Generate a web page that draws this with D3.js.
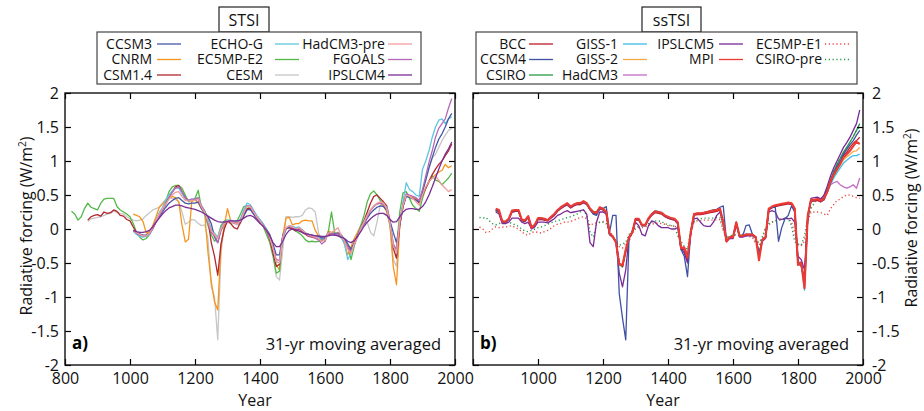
<!DOCTYPE html>
<html>
<head>
<meta charset="utf-8">
<script src="https://cdn.jsdelivr.net/npm/d3@7"></script>
<style>
  body { margin: 0; background: #fff; }
  svg { display: block; font-family: "Open Sans", sans-serif; }
</style>
</head>
<body>
<svg id="chart" width="924" height="411"></svg>
<script>
// ---------------- data ----------------
// Values are 31-yr moving averaged radiative forcing (W/m2), sampled every 10 years
// starting at each series' first year.
const step = 10;
const yTicks = [-2, -1.5, -1, -0.5, 0, 0.5, 1, 1.5, 2];
const xTicks = [800, 1000, 1200, 1400, 1600, 1800, 2000];

// ---- STSI (panel a) ----
const ccsm3 = [
  -0.02, -0.05, -0.07, -0.09, -0.09, -0.06, 0.01, 0.10, 0.18,
  0.25, 0.32, 0.38, 0.42, 0.45, 0.46, 0.42, 0.38, 0.37, 0.38,
  0.38, 0.40, 0.30, 0.24, 0.18, 0.08, -0.12, -0.20, -0.02, 0.08,
  0.12, 0.11, 0.09, 0.08, 0.11, 0.20, 0.28, 0.29, 0.22, 0.16,
  0.10, 0.05, -0.01, -0.08, -0.22, -0.38, -0.38, -0.10, 0.00, 0.03,
  0.02, 0.00, 0.01, -0.02, -0.06, -0.08, -0.09, -0.10, -0.11, -0.13,
  -0.13, -0.06, -0.06, -0.07, -0.06, -0.09, -0.15, -0.22, -0.30, -0.20,
  -0.10, 0.00, 0.07, 0.16, 0.23, 0.28, 0.32, 0.34, 0.33, 0.28,
  0.12, -0.05, -0.20, 0.08, 0.33, 0.48, 0.47, 0.45, 0.42, 0.40,
  0.55, 0.72, 0.90, 1.05, 1.20, 1.32, 1.40, 1.50, 1.62, 1.70
];
const cnrm = [
  0.22, 0.20, 0.18, 0.11, -0.06, -0.04, 0.05, 0.18, 0.32,
  0.37, 0.42, 0.45, 0.48, 0.46, 0.40, 0.06, -0.19, -0.15, 0.40,
  0.43, 0.38, 0.30, 0.22, -0.35, -0.77, -1.07, -1.19, -0.25, 0.05,
  0.30, 0.12, 0.10, 0.12, 0.13, 0.25, 0.30, 0.28, 0.25, 0.18,
  0.12, 0.05, -0.03, -0.13, -0.30, -0.53, -0.60, -0.10, 0.16, 0.17,
  0.06, 0.08, 0.08, 0.12, 0.13, 0.12, 0.12, -0.02, -0.10, -0.14,
  -0.18, -0.03, -0.05, -0.07, -0.06, -0.10, -0.22, -0.38, -0.26, -0.14,
  -0.05, 0.05, 0.12, 0.20, 0.28, 0.33, 0.37, 0.38, 0.34, 0.25,
  0.05, -0.55, -0.82, 0.05, 0.35, 0.50, 0.48, 0.47, 0.45, 0.42,
  0.50, 0.60, 0.70, 0.75, 0.80, 0.84, 0.86, 0.95, 0.90, 0.93
];
const csm14 = [
  0.13, 0.18, 0.20,
  0.21, 0.19, 0.25, 0.23, 0.24, 0.28, 0.26, 0.20, 0.19, 0.14,
  0.12, 0.03, -0.05, -0.08, -0.10, -0.10, -0.06, 0.02, 0.12, 0.22,
  0.30, 0.38, 0.46, 0.55, 0.62, 0.64, 0.55, 0.46, 0.42, 0.42,
  0.42, 0.44, 0.32, 0.25, 0.15, -0.20, -0.40, -0.68, -0.22, 0.00,
  0.12, 0.08, 0.02, 0.00, 0.10, 0.20, 0.30, 0.30, 0.23, 0.16,
  0.10, 0.04, -0.02, -0.15, -0.35, -0.55, -0.52, -0.12, 0.00, 0.02,
  0.00, -0.03, 0.00, -0.05, -0.08, -0.11, -0.12, -0.13, -0.14, -0.16,
  -0.14, -0.08, -0.07, -0.09, -0.08, -0.12, -0.20, -0.26, -0.32, -0.22,
  -0.10, 0.02, 0.12, 0.25, 0.38, 0.48, 0.50, 0.45, 0.40, 0.34,
  0.12, -0.28, -0.43, 0.05, 0.33, 0.50, 0.47, 0.45, 0.43, 0.38,
  0.50, 0.60, 0.70, 0.80, 0.88, 0.95, 1.00, 1.08, 1.15, 1.25
];
const echoG = [
  -0.03, -0.08, -0.11, -0.12, -0.11, -0.08, 0.00, 0.12, 0.24,
  0.32, 0.42, 0.50, 0.56, 0.60, 0.60, 0.52, 0.44, 0.42, 0.44,
  0.44, 0.46, 0.34, 0.27, 0.15, 0.00, -0.06, -0.12, 0.02, 0.10,
  0.13, 0.13, 0.11, 0.10, 0.15, 0.28, 0.38, 0.36, 0.28, 0.20,
  0.14, 0.08, 0.00, -0.12, -0.28, -0.48, -0.50, -0.15, 0.00, 0.05,
  0.04, 0.02, 0.03, -0.01, -0.06, -0.09, -0.10, -0.12, -0.13, -0.15,
  -0.15, -0.06, -0.06, -0.08, -0.07, -0.12, -0.22, -0.45, -0.36, -0.22,
  -0.10, 0.02, 0.10, 0.20, 0.28, 0.33, 0.37, 0.38, 0.37, 0.32,
  0.10, -0.22, -0.35, 0.12, 0.40, 0.68, 0.58, 0.55, 0.50, 0.48,
  0.88, 1.00, 1.15, 1.35, 1.50, 1.60, 1.62, 1.55, 1.62, 1.65
];
const ec5mpE2 = [
  0.26, 0.22, 0.13, 0.18, 0.30, 0.38, 0.32, 0.30,
  0.28, 0.38, 0.44, 0.45, 0.45, 0.45, 0.33, 0.28, 0.25, 0.22,
  0.18, 0.08, -0.05, -0.12, -0.16, -0.14, -0.08, 0.02, 0.12, 0.22,
  0.30, 0.40, 0.55, 0.62, 0.64, 0.64, 0.60, 0.50, 0.40, 0.42,
  0.45, 0.57, 0.30, 0.22, 0.05, -0.08, -0.18, -0.12, 0.05, 0.12,
  0.13, 0.12, 0.11, 0.12, 0.22, 0.33, 0.34, 0.30, 0.24, 0.17,
  0.12, 0.04, -0.08, -0.20, -0.40, -0.65, -0.62, -0.08, 0.01, 0.02,
  0.00, -0.03, -0.06, -0.10, -0.16, -0.19, -0.18, -0.19, -0.18, -0.17,
  -0.15, -0.05, 0.25, -0.06, -0.10, -0.13, -0.15, -0.22, -0.45, -0.25,
  -0.10, 0.05, 0.20, 0.40, 0.52, 0.56, 0.50, 0.42, 0.36, 0.28,
  0.05, -0.25, -0.30, 0.25, 0.53, 0.55, 0.45, 0.35, 0.30, 0.26,
  0.45, 0.60, 0.70, 0.78, 0.72, 0.70, 0.65, 0.70, 0.75, 0.82
];
const cesm = [
  0.11, 0.15, 0.16,
  0.17, 0.18, 0.20, 0.22, 0.23, 0.27, 0.24, 0.23, 0.22, 0.18,
  0.15, 0.13, 0.12, 0.13, 0.15, 0.20, 0.24, 0.28, 0.30, 0.32,
  0.38, 0.44, 0.47, 0.45, 0.43, 0.40, 0.25, 0.07, 0.10, 0.14,
  0.13, 0.08, 0.05, 0.06, -0.15, -0.85, -1.00, -1.63, -0.35, 0.05,
  0.10, 0.08, 0.08, 0.06, 0.08, 0.18, 0.28, 0.30, 0.24, 0.16,
  0.10, 0.05, -0.04, -0.15, -0.35, -0.70, -0.75, -0.30, 0.18, 0.18,
  0.17, 0.18, 0.18, 0.20, 0.28, 0.31, 0.30, 0.25, -0.05, -0.18,
  -0.15, -0.08, -0.06, -0.06, -0.05, -0.08, -0.18, -0.28, -0.32, -0.20,
  -0.10, 0.00, 0.08, 0.10, -0.05, -0.10, 0.10, 0.35, 0.34, 0.30,
  0.10, -0.45, -0.55, 0.05, 0.33, 0.48, 0.46, 0.44, 0.42, 0.40,
  0.55, 0.72, 0.90, 1.05, 1.10, 1.20, 1.30, 1.38, 1.45, 1.48
];
const hadcm3Pre = [
  -0.02, -0.05, -0.08, -0.10, -0.10, -0.06, 0.02, 0.12, 0.22,
  0.30, 0.37, 0.44, 0.50, 0.54, 0.55, 0.48, 0.42, 0.41, 0.42,
  0.42, 0.44, 0.32, 0.24, 0.12, -0.02, -0.08, -0.14, 0.00, 0.08,
  0.12, 0.11, 0.09, 0.08, 0.12, 0.24, 0.33, 0.33, 0.25, 0.18,
  0.12, 0.05, -0.02, -0.12, -0.28, -0.48, -0.50, -0.12, 0.02, 0.05,
  0.03, 0.00, 0.02, -0.02, -0.06, -0.09, -0.10, -0.12, -0.14, -0.18,
  -0.16, -0.06, -0.05, -0.02, 0.02, -0.10, -0.18, -0.30, -0.36, -0.22,
  -0.12, 0.00, 0.10, 0.20, 0.28, 0.34, 0.38, 0.40, 0.38, 0.30,
  0.08, -0.25, -0.35, 0.12, 0.35, 0.50, 0.48, 0.45, 0.40, 0.35,
  0.50, 0.62, 0.70, 0.75, 0.78, 0.72, 0.65, 0.60, 0.55, 0.58
];
const fgoals = [
  -0.02, -0.06, -0.09, -0.10, -0.10, -0.07, 0.00, 0.10, 0.20,
  0.28, 0.36, 0.46, 0.54, 0.60, 0.62, 0.55, 0.46, 0.42, 0.44,
  0.44, 0.46, 0.34, 0.26, 0.08, -0.05, -0.10, -0.20, 0.00, 0.10,
  0.12, 0.12, 0.10, 0.09, 0.12, 0.24, 0.34, 0.34, 0.26, 0.18,
  0.12, 0.06, -0.02, -0.12, -0.28, -0.45, -0.46, -0.12, 0.01, 0.04,
  0.02, -0.01, 0.01, -0.03, -0.07, -0.10, -0.11, -0.14, -0.16, -0.22,
  -0.18, -0.06, -0.06, -0.08, -0.07, -0.10, -0.18, -0.26, -0.33, -0.22,
  -0.12, 0.00, 0.08, 0.18, 0.27, 0.33, 0.37, 0.38, 0.36, 0.30,
  0.10, -0.22, -0.30, 0.10, 0.36, 0.52, 0.50, 0.48, 0.46, 0.42,
  0.58, 0.78, 0.98, 1.15, 1.35, 1.48, 1.55, 1.62, 1.78, 1.92
];
const ipslcm4 = [
  -0.02, -0.04, -0.05, -0.05, -0.04, -0.02, 0.03, 0.10, 0.16,
  0.22, 0.27, 0.31, 0.33, 0.35, 0.35, 0.34, 0.32, 0.31, 0.30,
  0.29, 0.27, 0.25, 0.22, 0.19, 0.16, 0.13, 0.11, 0.10, 0.10,
  0.11, 0.12, 0.12, 0.12, 0.13, 0.16, 0.19, 0.20, 0.18, 0.13,
  0.08, 0.04, -0.02, -0.10, -0.20, -0.26, -0.26, -0.18, -0.08, -0.02,
  0.00, -0.01, -0.03, -0.05, -0.07, -0.08, -0.09, -0.10, -0.10, -0.11,
  -0.11, -0.10, -0.09, -0.09, -0.10, -0.12, -0.14, -0.18, -0.20, -0.17,
  -0.11, -0.04, 0.04, 0.10, 0.15, 0.19, 0.22, 0.23, 0.23, 0.20,
  0.14, 0.10, 0.11, 0.18, 0.25, 0.29, 0.30, 0.30, 0.29, 0.29,
  0.33, 0.40, 0.50, 0.62, 0.75, 0.88, 1.00, 1.10, 1.18, 1.28
];

// ---- ssTSI (panel b) ----
const bcc = [
  0.28, 0.26, 0.10,
  0.10, 0.14, 0.25, 0.26, 0.26, 0.12, 0.11, 0.17, 0.01, 0.04,
  0.14, 0.14, 0.13, 0.12, 0.16, 0.20, 0.26, 0.30, 0.33, 0.36,
  0.31, 0.34, 0.36, 0.36, 0.39, 0.36, 0.28, 0.23, 0.22, 0.30,
  0.28, 0.23, -0.08, -0.12, -0.19, -0.50, -0.55, -0.32, -0.14, -0.06,
  0.13, 0.13, 0.05, 0.05, 0.14, 0.20, 0.24, 0.23, 0.22, 0.18,
  0.16, 0.14, 0.13, 0.08, -0.30, -0.30, -0.45, -0.07, 0.20, 0.21,
  0.21, 0.22, 0.23, 0.24, 0.25, 0.26, 0.28, 0.08, -0.19, -0.13,
  -0.13, 0.08, -0.11, -0.11, -0.09, -0.09, -0.09, -0.13, -0.40, -0.17,
  -0.13, 0.28, 0.31, 0.33, 0.34, 0.35, 0.36, 0.37, 0.36, 0.28,
  -0.50, -0.52, -0.80, 0.18, 0.41, 0.41, 0.42, 0.40, 0.43, 0.54,
  0.68, 0.80, 0.90, 0.98, 1.08, 1.13, 1.20, 1.26, 1.30, 1.35
];
const ccsm4 = [
  0.28, 0.27, 0.12,
  0.10, 0.14, 0.26, 0.27, 0.27, 0.13, 0.12, 0.18, 0.03, 0.05,
  0.15, 0.15, 0.14, 0.13, 0.17, 0.21, 0.27, 0.31, 0.34, 0.37,
  0.32, 0.35, 0.37, 0.38, 0.40, 0.37, 0.29, 0.22, 0.20, 0.30,
  0.30, 0.33, -0.05, 0.20, 0.20, -0.95, -1.31, -1.63, -0.14, -0.05,
  0.14, 0.14, 0.05, 0.05, 0.15, 0.21, 0.25, 0.25, 0.23, 0.19,
  0.17, 0.15, 0.14, 0.08, -0.30, -0.40, -0.70, -0.05, 0.22, 0.23,
  0.23, 0.24, 0.25, 0.27, 0.28, 0.29, 0.32, 0.34, -0.18, -0.12,
  -0.12, 0.08, -0.10, -0.10, 0.05, 0.06, -0.08, -0.12, -0.38, -0.16,
  -0.12, 0.30, 0.32, 0.32, -0.18, 0.02, 0.15, 0.20, 0.34, 0.25,
  -0.50, -0.55, -0.75, 0.18, 0.42, 0.43, 0.44, 0.42, 0.45, 0.57,
  0.70, 0.82, 0.92, 1.00, 1.10, 1.17, 1.24, 1.30, 1.38, 1.45
];
const csiro = [
  0.27, 0.25, 0.11,
  0.11, 0.15, 0.26, 0.27, 0.26, 0.14, 0.12, 0.18, 0.03, 0.06,
  0.15, 0.15, 0.14, 0.13, 0.17, 0.21, 0.27, 0.31, 0.34, 0.36,
  0.33, 0.35, 0.37, 0.37, 0.39, 0.37, 0.30, 0.26, 0.25, 0.32,
  0.30, 0.25, -0.07, -0.10, -0.18, -0.52, -0.56, -0.34, -0.12, -0.05,
  0.14, 0.14, 0.06, 0.06, 0.15, 0.22, 0.25, 0.24, 0.23, 0.20,
  0.17, 0.15, 0.14, 0.10, -0.27, -0.30, -0.47, -0.05, 0.21, 0.22,
  0.22, 0.23, 0.24, 0.25, 0.26, 0.27, 0.29, 0.10, -0.17, -0.12,
  -0.12, 0.09, -0.09, -0.09, -0.08, -0.08, -0.08, -0.12, -0.36, -0.16,
  -0.12, 0.29, 0.32, 0.34, 0.35, 0.36, 0.37, 0.38, 0.38, 0.30,
  -0.48, -0.52, -0.75, 0.20, 0.42, 0.43, 0.44, 0.42, 0.46, 0.60,
  0.72, 0.85, 0.95, 1.04, 1.13, 1.20, 1.28, 1.36, 1.45, 1.55
];
const giss1 = [
  0.27, 0.25, 0.10,
  0.10, 0.14, 0.25, 0.26, 0.26, 0.13, 0.12, 0.17, 0.02, 0.05,
  0.15, 0.15, 0.14, 0.12, 0.17, 0.21, 0.27, 0.31, 0.34, 0.37,
  0.32, 0.35, 0.37, 0.37, 0.40, 0.37, 0.29, 0.24, 0.23, 0.31,
  0.29, 0.24, -0.08, -0.11, -0.20, -0.52, -0.54, -0.30, -0.12, -0.05,
  0.14, 0.14, 0.05, 0.05, 0.15, 0.22, 0.27, 0.26, 0.24, 0.20,
  0.17, 0.15, 0.14, 0.09, -0.28, -0.30, -0.45, -0.05, 0.22, 0.23,
  0.23, 0.24, 0.25, 0.26, 0.27, 0.28, 0.30, 0.10, -0.18, -0.12,
  -0.12, 0.10, -0.10, -0.10, -0.08, -0.08, -0.08, -0.12, -0.42, -0.16,
  -0.12, 0.29, 0.32, 0.34, 0.35, 0.36, 0.37, 0.38, 0.37, 0.29,
  -0.52, -0.50, -0.90, 0.18, 0.42, 0.42, 0.43, 0.40, 0.43, 0.54,
  0.65, 0.75, 0.83, 0.90, 0.97, 1.01, 1.05, 1.08, 1.08, 1.10
];
const giss2 = [
  0.28, 0.26, 0.11,
  0.10, 0.15, 0.26, 0.27, 0.27, 0.13, 0.12, 0.18, 0.02, 0.05,
  0.15, 0.15, 0.14, 0.13, 0.17, 0.21, 0.27, 0.31, 0.34, 0.37,
  0.32, 0.35, 0.37, 0.38, 0.40, 0.37, 0.29, 0.24, 0.23, 0.31,
  0.29, 0.24, -0.07, -0.11, -0.19, -0.51, -0.53, -0.31, -0.12, -0.05,
  0.14, 0.14, 0.05, 0.05, 0.15, 0.22, 0.26, 0.25, 0.24, 0.20,
  0.17, 0.15, 0.14, 0.09, -0.28, -0.29, -0.44, -0.05, 0.22, 0.23,
  0.23, 0.24, 0.25, 0.26, 0.27, 0.28, 0.30, 0.10, -0.18, -0.12,
  -0.12, 0.10, -0.10, -0.10, -0.08, -0.08, -0.08, -0.12, -0.42, -0.16,
  -0.12, 0.29, 0.32, 0.34, 0.35, 0.36, 0.37, 0.38, 0.37, 0.29,
  -0.52, -0.50, -0.86, 0.18, 0.42, 0.42, 0.43, 0.41, 0.44, 0.55,
  0.67, 0.78, 0.86, 0.94, 1.02, 1.06, 1.10, 1.14, 1.15, 1.20
];
const hadcm3 = [
  0.27, 0.25, 0.10,
  0.10, 0.14, 0.25, 0.26, 0.26, 0.13, 0.12, 0.17, 0.02, 0.05,
  0.14, 0.14, 0.13, 0.12, 0.16, 0.20, 0.26, 0.30, 0.33, 0.35,
  0.31, 0.34, 0.36, 0.36, 0.38, 0.36, 0.29, 0.24, 0.23, 0.30,
  0.28, 0.24, -0.08, -0.11, -0.19, -0.50, -0.55, -0.32, -0.12, -0.05,
  0.13, 0.13, 0.05, 0.05, 0.14, 0.21, 0.25, 0.24, 0.23, 0.19,
  0.16, 0.14, 0.13, 0.08, -0.28, -0.30, -0.45, -0.05, 0.21, 0.22,
  0.22, 0.23, 0.24, 0.25, 0.26, 0.27, 0.29, 0.09, -0.18, -0.12,
  -0.12, 0.09, -0.10, -0.10, -0.08, -0.08, -0.08, -0.12, -0.40, -0.16,
  -0.12, 0.29, 0.32, 0.34, 0.35, 0.36, 0.37, 0.38, 0.37, 0.29,
  -0.50, -0.48, -0.80, 0.18, 0.41, 0.41, 0.42, 0.40, 0.43, 0.55,
  0.65, 0.68, 0.70, 0.65, 0.62, 0.60, 0.62, 0.65, 0.60, 0.75
];
const ipslcm5 = [
  0.25, 0.22, 0.08,
  0.08, 0.10, 0.16, 0.16, 0.16, 0.10, 0.08, 0.10, 0.00, 0.03,
  0.10, 0.10, 0.10, 0.09, 0.12, 0.15, 0.20, 0.22, 0.25, 0.27,
  0.24, 0.25, 0.26, 0.27, 0.28, 0.22, -0.20, -0.26, 0.10, 0.25,
  0.25, 0.22, -0.08, -0.12, -0.20, -0.65, -0.85, -0.60, -0.12, -0.05,
  0.10, 0.05, -0.08, -0.10, 0.05, 0.12, 0.10, 0.05, 0.02, 0.02,
  0.02, 0.00, 0.00, 0.02, -0.28, -0.35, -0.50, -0.05, 0.15, 0.16,
  0.10, 0.05, 0.04, 0.04, 0.10, 0.20, 0.25, 0.08, -0.18, -0.14,
  -0.14, 0.06, -0.12, -0.12, -0.10, -0.10, -0.10, -0.13, -0.38, -0.18,
  -0.14, 0.25, 0.27, 0.25, 0.15, 0.14, 0.16, 0.15, 0.16, 0.10,
  -0.40, -0.45, -0.60, 0.15, 0.45, 0.46, 0.47, 0.44, 0.50, 0.63,
  0.78, 0.90, 1.00, 1.10, 1.20, 1.27, 1.35, 1.45, 1.55, 1.75
];
const mpi = [
  0.30, 0.28, 0.11,
  0.11, 0.15, 0.27, 0.28, 0.28, 0.14, 0.13, 0.19, 0.02, 0.06,
  0.16, 0.16, 0.15, 0.13, 0.18, 0.22, 0.28, 0.32, 0.35, 0.38,
  0.33, 0.36, 0.38, 0.38, 0.41, 0.38, 0.30, 0.25, 0.24, 0.32,
  0.30, 0.25, -0.06, -0.11, -0.20, -0.52, -0.53, -0.30, -0.12, -0.05,
  0.15, 0.15, 0.06, 0.06, 0.16, 0.22, 0.26, 0.25, 0.24, 0.20,
  0.18, 0.16, 0.15, 0.10, -0.28, -0.27, -0.42, -0.05, 0.22, 0.23,
  0.23, 0.24, 0.25, 0.26, 0.27, 0.28, 0.30, 0.10, -0.18, -0.12,
  -0.12, 0.10, -0.10, -0.10, -0.08, -0.08, -0.08, -0.12, -0.46, -0.16,
  -0.12, 0.30, 0.33, 0.35, 0.36, 0.37, 0.38, 0.39, 0.38, 0.30,
  -0.53, -0.50, -0.87, 0.20, 0.43, 0.43, 0.44, 0.42, 0.45, 0.55,
  0.70, 0.80, 0.88, 0.96, 1.05, 1.10, 1.15, 1.22, 1.28, 1.25
];
const ec5mpE1 = [
  0.03, 0.00, -0.05, -0.04, 0.00, 0.03, 0.02, 0.03,
  0.03, 0.04, 0.05, 0.02, 0.00, -0.04, -0.08, -0.09, -0.05, -0.04,
  -0.05, -0.06, -0.04, -0.02, 0.01, 0.05, 0.07, 0.08, 0.10, 0.10,
  0.11, 0.13, 0.15, 0.17, 0.18, 0.15, 0.05, 0.08, 0.09, 0.10,
  0.11, 0.08, -0.05, -0.10, -0.18, -0.26, -0.28, -0.22, -0.18, -0.06,
  0.00, 0.02, 0.02, 0.03, 0.05, 0.07, 0.08, 0.09, 0.08, 0.07,
  0.05, 0.05, 0.04, 0.02, -0.30, -0.32, -0.33, -0.05, 0.10, 0.12,
  0.12, 0.13, 0.13, 0.13, 0.13, 0.14, 0.14, -0.02, -0.14, -0.10,
  -0.10, -0.08, -0.09, -0.10, -0.10, -0.11, -0.12, -0.23, -0.24, -0.15,
  0.00, 0.06, 0.10, 0.12, 0.13, 0.14, 0.15, 0.16, 0.10, -0.05,
  -0.25, -0.24, -0.18, 0.10, 0.25, 0.25, 0.25, 0.24, 0.22, 0.20,
  0.30, 0.36, 0.42, 0.44, 0.48, 0.50, 0.50, 0.48, 0.46, 0.45
];
const csiroPre = [
  0.17, 0.16, 0.17, 0.12, 0.08, 0.06, 0.08, 0.10,
  0.11, 0.10, 0.08, 0.06, 0.04, 0.00, -0.03, -0.04, -0.02, 0.00,
  0.02, 0.03, 0.05, 0.07, 0.09, 0.11, 0.12, 0.14, 0.15, 0.17,
  0.18, 0.20, 0.22, 0.25, 0.28, 0.20, -0.05, -0.12, 0.06, 0.10,
  0.10, 0.08, -0.05, -0.10, -0.19, -0.24, -0.22, -0.20, -0.08, -0.02,
  0.02, 0.04, 0.05, 0.06, 0.08, 0.10, 0.12, 0.12, 0.11, 0.08,
  0.06, 0.05, 0.04, -0.10, -0.18, -0.26, -0.30, 0.00, 0.11, 0.13,
  0.15, 0.16, 0.16, 0.16, 0.16, 0.17, 0.17, 0.00, -0.13, -0.10,
  -0.09, -0.08, -0.08, -0.08, -0.09, -0.09, -0.10, -0.18, -0.20, -0.12,
  0.02, 0.08, 0.10, 0.12, 0.13, 0.14, 0.15, 0.16, 0.05, -0.19,
  -0.22, -0.24, -0.10, 0.15, 0.30, 0.38, 0.45, 0.45, 0.48, 0.60,
  0.72, 0.85, 0.95, 1.04, 1.12, 1.20, 1.28, 1.36, 1.45, 1.50
];

// Series per panel: name, first year, values (legend order)
const stsiSeries = [
  { name: "CCSM3",      start: 1010, values: ccsm3 },
  { name: "CNRM",       start: 1010, values: cnrm },
  { name: "CSM1.4",     start: 870,  values: csm14 },
  { name: "ECHO-G",     start: 1010, values: echoG },
  { name: "EC5MP-E2",   start: 820,  values: ec5mpE2 },
  { name: "CESM",       start: 870,  values: cesm },
  { name: "HadCM3-pre", start: 1010, values: hadcm3Pre },
  { name: "FGOALS",     start: 1010, values: fgoals },
  { name: "IPSLCM4",    start: 1010, values: ipslcm4 }
];
const sstsiSeries = [
  { name: "BCC",       start: 870, values: bcc },
  { name: "CCSM4",     start: 870, values: ccsm4 },
  { name: "CSIRO",     start: 870, values: csiro },
  { name: "GISS-1",    start: 870, values: giss1 },
  { name: "GISS-2",    start: 870, values: giss2 },
  { name: "HadCM3",    start: 870, values: hadcm3 },
  { name: "IPSLCM5",   start: 870, values: ipslcm5 },
  { name: "MPI",       start: 870, values: mpi },
  { name: "EC5MP-E1",  start: 820, values: ec5mpE1 },
  { name: "CSIRO-pre", start: 820, values: csiroPre }
];

// ---------------- styles ----------------
const stsiColors = {
  "CCSM3": "#4457a7", "CNRM": "#f7941e", "CSM1.4": "#b1282e",
  "ECHO-G": "#5cc6e0", "EC5MP-E2": "#53b848", "CESM": "#c6c6c6",
  "HadCM3-pre": "#f39c9c", "FGOALS": "#b468b8", "IPSLCM4": "#7a2e96"
};
const sstsiColors = {
  "BCC": "#be1e2d", "CCSM4": "#3e51a3", "CSIRO": "#27994a",
  "GISS-1": "#3dbde8", "GISS-2": "#f7a94a", "HadCM3": "#c46bc7",
  "IPSLCM5": "#7b2a98", "MPI": "#ee3a35", "EC5MP-E1": "#ee4540", "CSIRO-pre": "#1f9a4a"
};
const dotted = new Set(["EC5MP-E1", "CSIRO-pre"]);
// drawing order (bottom to top)
const stsiOrder = ["CESM", "CNRM", "EC5MP-E2", "CSM1.4", "ECHO-G", "CCSM3", "FGOALS", "HadCM3-pre", "IPSLCM4"];
const sstsiOrder = ["EC5MP-E1", "CSIRO-pre", "GISS-2", "HadCM3", "GISS-1", "CSIRO", "BCC", "IPSLCM5", "CCSM4", "MPI"];

// ---------------- drawing ----------------
const svg = d3.select("#chart");
const plotTop = 93, plotBottom = 365;
const FONT = "'Open Sans', sans-serif";

function drawPanel(cfg) {
  const g = svg.append("g");
  const x = d3.scaleLinear().domain([800, 2000]).range([cfg.x0, cfg.x1]);
  const y = d3.scaleLinear().domain([-2, 2]).range([plotBottom, plotTop]);

  const clipId = "clip-" + cfg.id;
  svg.append("clipPath").attr("id", clipId)
    .append("rect").attr("x", cfg.x0).attr("y", plotTop)
    .attr("width", cfg.x1 - cfg.x0).attr("height", plotBottom - plotTop);

  const line = d3.line()
    .defined(d => d[1] !== null)
    .x(d => x(d[0])).y(d => y(d[1]));

  const lines = g.append("g").attr("clip-path", `url(#${clipId})`);
  cfg.order.forEach(name => {
    const s = cfg.series.find(d => d.name === name);
    const pts = s.values.map((v, k) => [s.start + k * step, v]);
    lines.append("path").datum(pts)
      .attr("d", line)
      .attr("fill", "none")
      .attr("stroke", cfg.colors[name])
      .attr("stroke-width", name === "MPI" ? 2.1 : (dotted.has(name) ? 1.4 : 1.3))
      .attr("stroke-dasharray", dotted.has(name) ? "1.2,2.6" : null)
      .attr("stroke-linejoin", "round");
  });

  const styleAxis = sel => {
    sel.select(".domain").remove();
    sel.selectAll(".tick line").attr("stroke", "#000").attr("stroke-width", 1.2);
    sel.selectAll(".tick text").attr("fill", "#111")
      .style("font-family", FONT).style("font-size", "16px");
  };

  g.append("g").attr("transform", `translate(0,${plotBottom})`)
    .call(d3.axisBottom(x).tickValues(xTicks).tickSizeInner(-6).tickSizeOuter(0).tickPadding(8)
      .tickFormat(d => (cfg.id === "b" && d === 800) ? "" : d))
    .call(styleAxis);
  g.append("g").attr("transform", `translate(0,${plotTop})`)
    .call(d3.axisTop(x).tickValues(xTicks).tickSizeInner(-6).tickSizeOuter(0).tickFormat(""))
    .call(styleAxis);
  g.append("g").attr("transform", `translate(${cfg.x0},0)`)
    .call(d3.axisLeft(y).tickValues(yTicks).tickSizeInner(-6).tickSizeOuter(0).tickPadding(6)
      .tickFormat(d => cfg.id === "a" ? d : ""))
    .call(styleAxis);
  g.append("g").attr("transform", `translate(${cfg.x1},0)`)
    .call(d3.axisRight(y).tickValues(yTicks).tickSizeInner(-6).tickSizeOuter(0).tickPadding(9)
      .tickFormat(d => cfg.id === "b" ? d : ""))
    .call(styleAxis);

  // frame
  g.append("rect")
    .attr("x", cfg.x0).attr("y", plotTop)
    .attr("width", cfg.x1 - cfg.x0).attr("height", plotBottom - plotTop)
    .attr("fill", "none").attr("stroke", "#111").attr("stroke-width", 1.4);

  // panel label and note
  g.append("text").attr("x", cfg.x0 + 7).attr("y", 349)
    .style("font-family", FONT).style("font-size", "17px").style("font-weight", 700)
    .text(cfg.id + ")");
  g.append("text").attr("x", cfg.x1 - 14).attr("y", 350).attr("text-anchor", "end")
    .style("font-family", FONT).style("font-size", "16.5px").attr("fill", "#111")
    .text("31-yr moving averaged");

  // x title
  g.append("text").attr("x", (cfg.x0 + cfg.x1) / 2 - 5).attr("y", 406).attr("text-anchor", "middle")
    .style("font-family", FONT).style("font-size", "16px").attr("fill", "#111")
    .text("Year");

  // y title
  const yt = g.append("text")
    .attr("transform", `translate(${cfg.yTitleX},${cfg.yTitleY}) rotate(-90)`)
    .attr("text-anchor", "middle")
    .style("font-family", FONT).style("font-size", "16px").attr("fill", "#111");
  yt.append("tspan").text("Radiative forcing (W/m");
  yt.append("tspan").attr("dy", -6).style("font-size", "10px").text("2");
  yt.append("tspan").attr("dy", 6).text(")");

  // title box
  const tb = cfg.titleBox;
  g.append("rect").attr("x", tb.x).attr("y", 7).attr("width", tb.w).attr("height", 25)
    .attr("fill", "#fff").attr("stroke", "#222").attr("stroke-width", 1.2);
  g.append("text").attr("x", tb.x + tb.w / 2).attr("y", 26).attr("text-anchor", "middle")
    .style("font-family", FONT).style("font-size", "16px").attr("fill", "#111")
    .text(cfg.title);

  // legend
  const lb = cfg.legendBox;
  g.append("rect").attr("x", lb.x).attr("y", 32).attr("width", lb.w).attr("height", 52)
    .attr("fill", "#fff").attr("stroke", "#444").attr("stroke-width", 1.2);
  const rowsY = [48.5, 64, 79.5];
  cfg.legendCols.forEach((col, ci) => {
    col.forEach((name, ri) => {
      const by = rowsY[ri];
      g.append("text").attr("x", cfg.legendTextX[ci]).attr("y", by).attr("text-anchor", "end")
        .style("font-family", FONT).style("font-size", "14px").attr("fill", "#111")
        .text(name);
      g.append("line")
        .attr("x1", cfg.legendLineX[ci]).attr("x2", cfg.legendLineX[ci] + 24)
        .attr("y1", by - 4.5).attr("y2", by - 4.5)
        .attr("stroke", cfg.colors[name])
        .attr("stroke-width", dotted.has(name) ? 1.4 : 1.3)
        .attr("stroke-dasharray", dotted.has(name) ? "1.2,2.6" : null);
    });
  });
}

drawPanel({
  id: "a", x0: 65, x1: 455, series: stsiSeries, colors: stsiColors, order: stsiOrder,
  yTitleX: 32, yTitleY: 226, title: "STSI",
  titleBox: { x: 219, w: 50 }, legendBox: { x: 97, w: 324 },
  legendCols: [["CCSM3", "CNRM", "CSM1.4"], ["ECHO-G", "EC5MP-E2", "CESM"], ["HadCM3-pre", "FGOALS", "IPSLCM4"]],
  legendTextX: [152, 263, 385], legendLineX: [157, 275, 388]
});
drawPanel({
  id: "b", x0: 473, x1: 863, series: sstsiSeries, colors: sstsiColors, order: sstsiOrder,
  yTitleX: 917, yTitleY: 218, title: "ssTSI",
  titleBox: { x: 642, w: 59 }, legendBox: { x: 476, w: 381 },
  legendCols: [["BCC", "CCSM4", "CSIRO"], ["GISS-1", "GISS-2", "HadCM3"], ["IPSLCM5", "MPI"], ["EC5MP-E1", "CSIRO-pre"]],
  legendTextX: [526, 618, 714, 822], legendLineX: [529, 623, 719, 825]
});
</script>
</body>
</html>
